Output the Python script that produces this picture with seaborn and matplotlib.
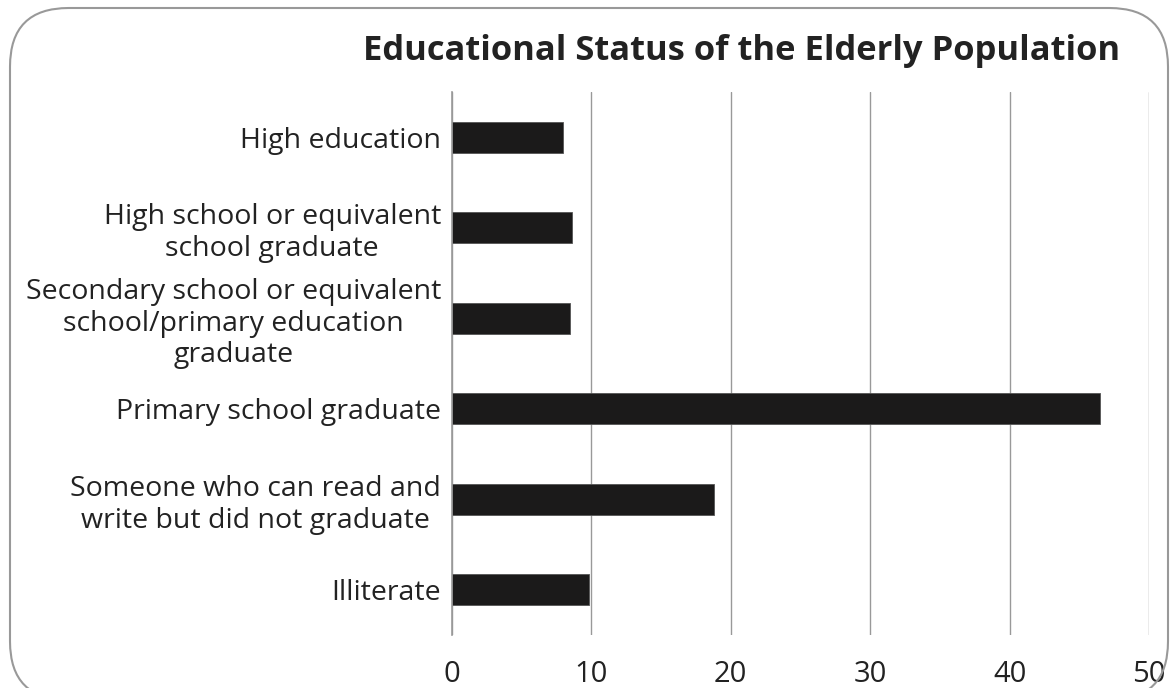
import matplotlib
matplotlib.use("Agg")
import matplotlib.pyplot as plt
from matplotlib.patches import FancyBboxPatch
import seaborn as sns
import pandas as pd

categories = [
    "High education",
    "High school or equivalent\nschool graduate",
    "Secondary school or equivalent\nschool/primary education\ngraduate",
    "Primary school graduate",
    "Someone who can read and\nwrite but did not graduate",
    "Illiterate",
]
values = [7.95, 8.6, 8.45, 46.5, 18.8, 9.8]
x_ticks = [0, 10, 20, 30, 40, 50]
title = "Educational Status of the Elderly Population"

df = pd.DataFrame({"category": categories, "value": values})

sns.set_theme(style="white")
plt.rcParams["font.family"] = ["Open Sans", "DejaVu Sans"]

fig = plt.figure(figsize=(11.73, 6.88), dpi=100)
ax = fig.add_axes([452 / 1173, 1 - 635 / 688, (1149 - 452) / 1173, (635 - 92) / 688])

sns.barplot(data=df, x="value", y="category", orient="h", color="#1b1a1a",
            width=0.345, ax=ax, saturation=1, edgecolor="#555555", linewidth=0.6)

ax.set_xlim(0, 50)
ax.set_ylim(5.5, -0.5)
ax.set_xticks(x_ticks)
ax.set_xticklabels([str(t) for t in x_ticks])
ax.set_xlabel("")
ax.set_ylabel("")
for s in ["top", "right", "bottom"]:
    ax.spines[s].set_visible(False)
ax.spines["left"].set_color("#999999")
ax.spines["left"].set_linewidth(1.2)
ax.xaxis.grid(True, color="#999999", linewidth=1.0)
ax.set_axisbelow(True)
ax.tick_params(axis="x", length=0, pad=18, labelsize=21, labelcolor="#222222")
ax.tick_params(axis="y", length=0, pad=8, labelsize=20.5, labelcolor="#222222")
for lbl in ax.get_yticklabels():
    lbl.set_horizontalalignment("right")
    lbl.set_multialignment("center")
    lbl.set_linespacing(1.18)

fig.text(742 / 1173, 1 - 51 / 688, title, ha="center", va="center",
         fontsize=24.8, fontweight="bold", color="#222222")

box = FancyBboxPatch((10 / 1173, 1 - 700 / 688), (1168 - 10) / 1173, (700 - 8) / 688,
                     boxstyle="round,pad=0,rounding_size=0.05", transform=fig.transFigure,
                     facecolor="none", edgecolor="#999999", linewidth=1.5, clip_on=False,
                     mutation_aspect=1173 / 688)
fig.patches.append(box)

fig.savefig("out.png", dpi=100)
